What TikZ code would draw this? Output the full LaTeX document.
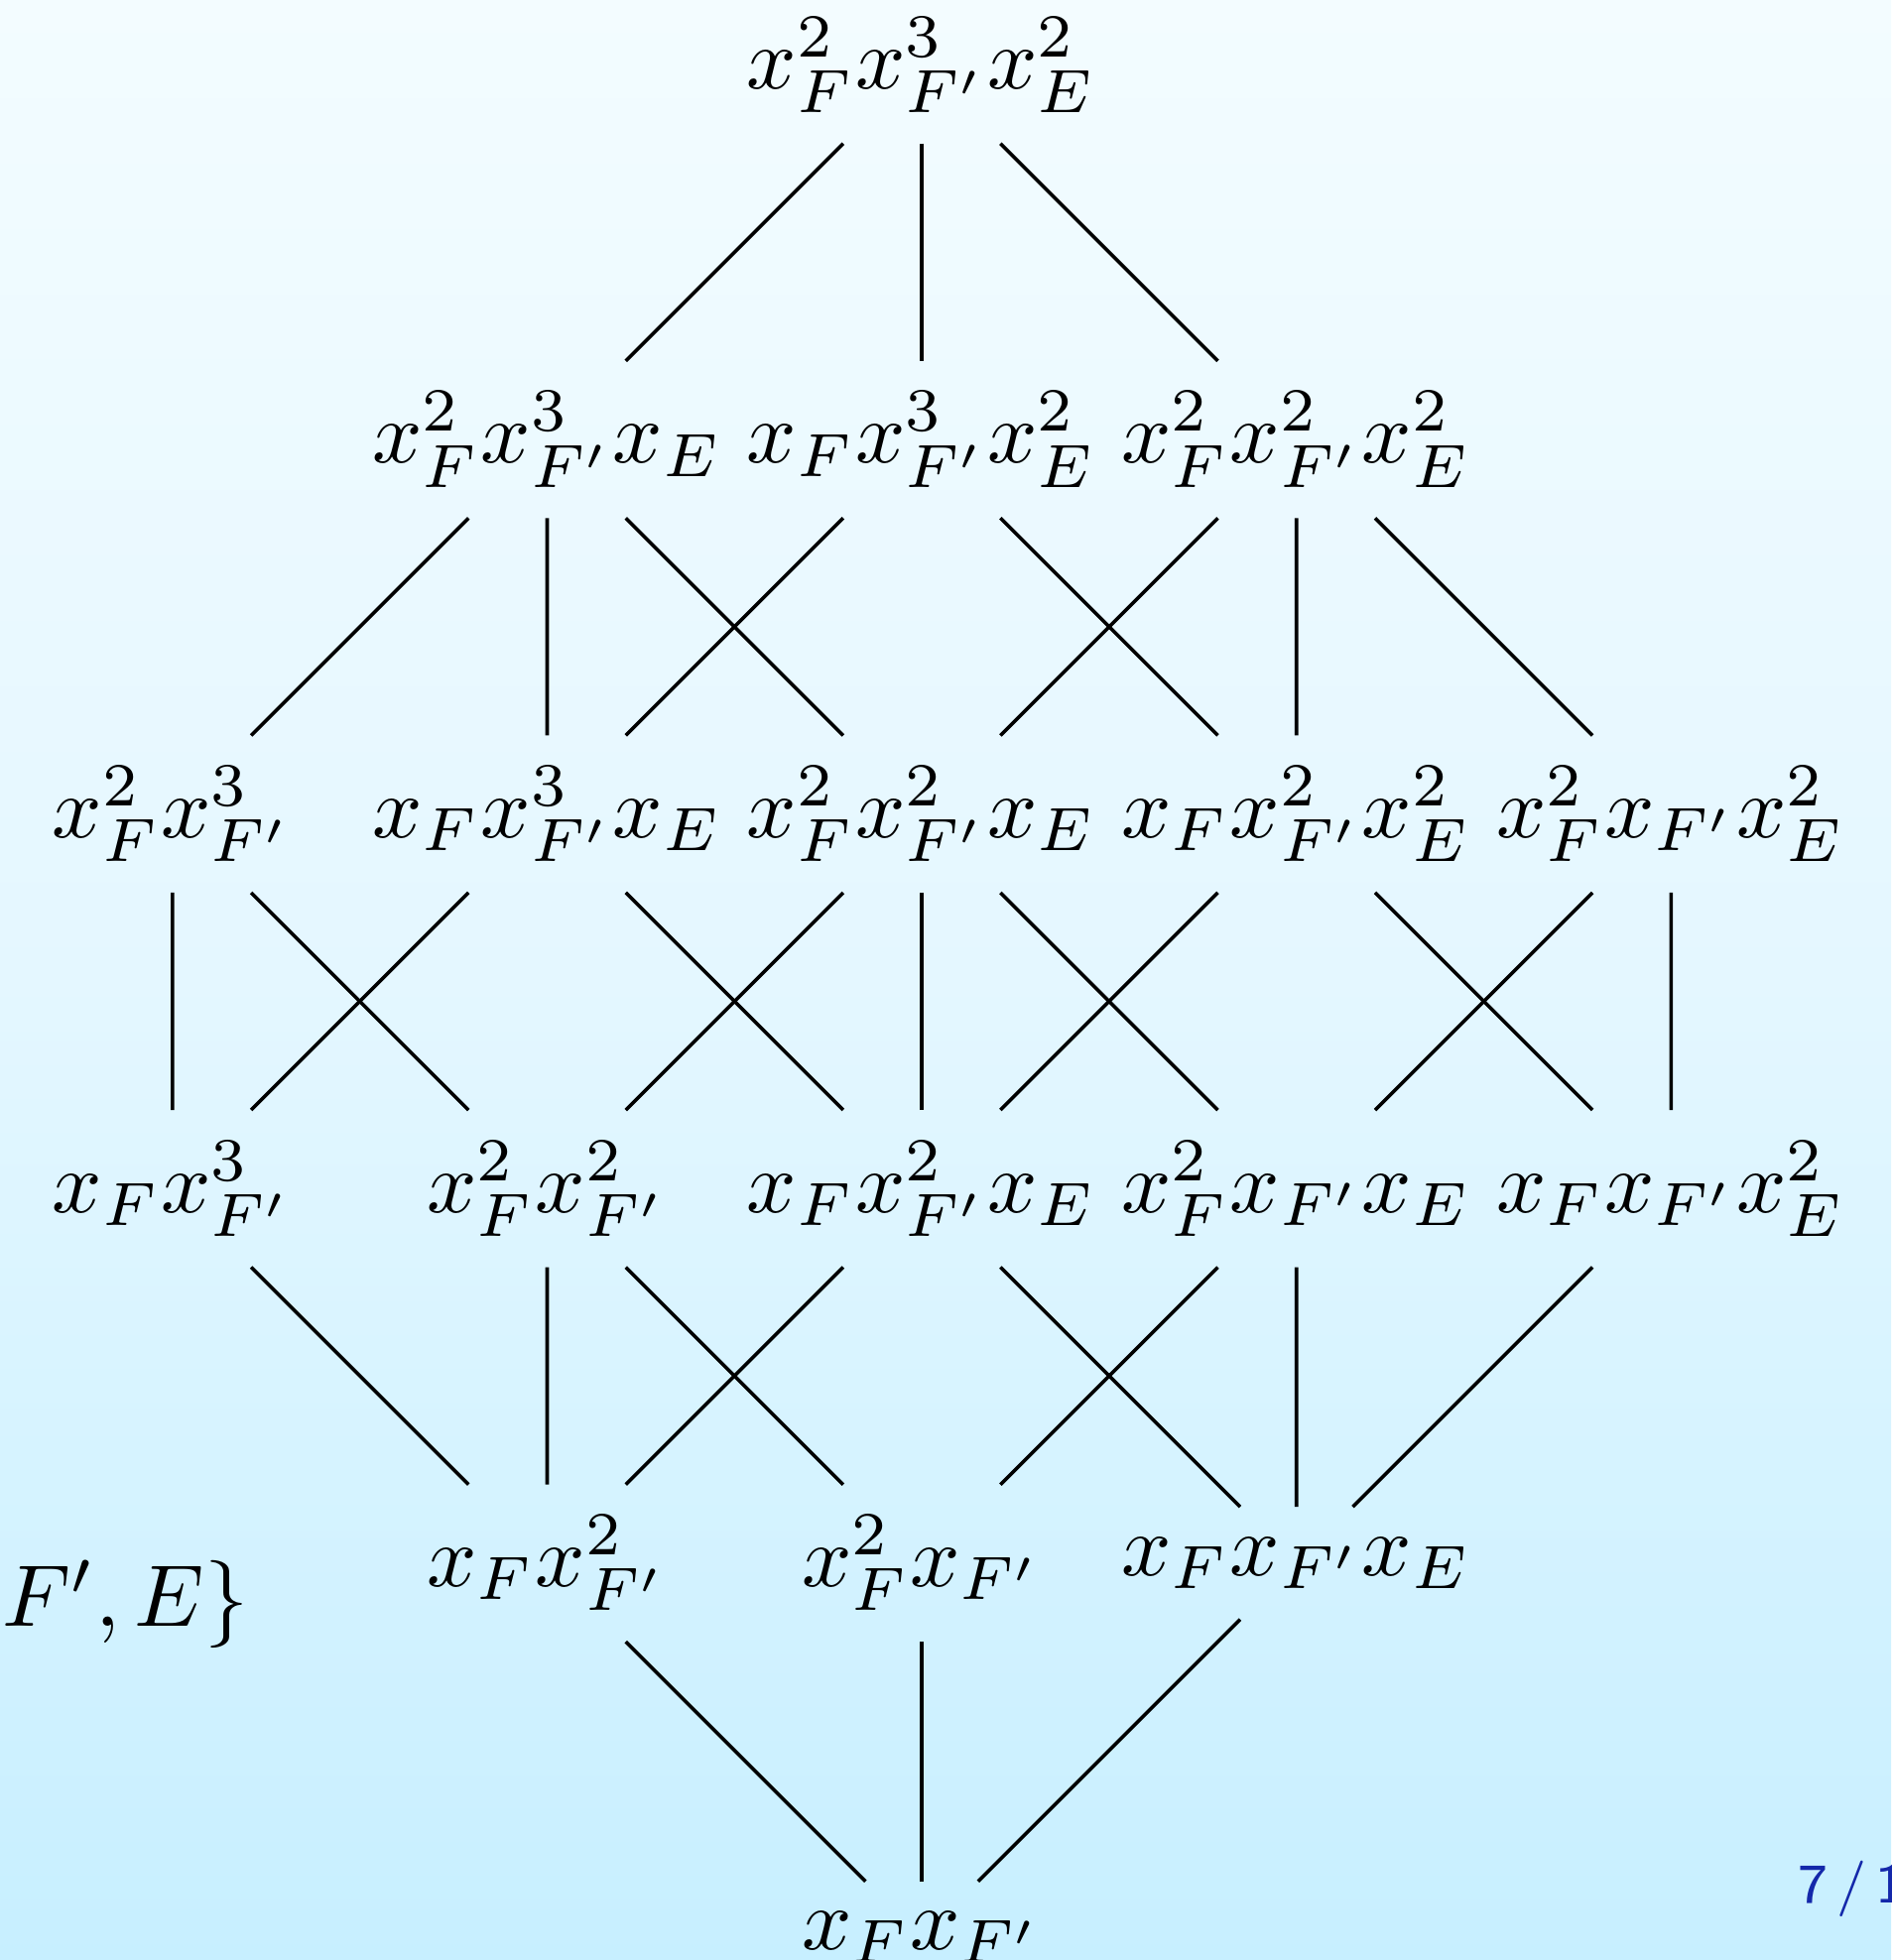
\documentclass[tikz,border=0pt]{standalone}
\usepackage{amsmath, amssymb}
\usepackage{tikz}
\usetikzlibrary{positioning}
\definecolor{slidetop}{RGB}{243,252,255}
\definecolor{slidemid}{RGB}{228,247,255}
\definecolor{slidebot}{RGB}{199,239,255}
\definecolor{pagenum}{RGB}{20,40,170}

\begin{document}
\begin{tikzpicture}[
    mono/.style={inner sep=3.33pt},
    scale=1.503
]
    % slide background
    \useasboundingbox (-2.461,-2.56) rectangle (2.588,2.674);
    \shade[top color=slidetop, bottom color=slidebot, middle color=slidemid]
        (-2.461,-2.56) rectangle (2.588,2.674);

    % degree 7
    \node[mono] (232) at (0,2.5) {$x_F^2x_{F'}^3x_E^2$};

    % degree 6
    \node[mono] (231) at (-1,1.5) {$x_F^2x_{F'}^3x_E$};
    \node[mono] (132) at (0,1.5) {$x_Fx_{F'}^3x_E^2$};
    \node[mono] (222) at (1,1.5) {$x_F^2x_{F'}^2x_E^2$};

    % degree 5
    \node[mono] (230) at (-2,0.5) {$x_F^2x_{F'}^3$};
    \node[mono] (131) at (-1,0.5) {$x_Fx_{F'}^3x_E$};
    \node[mono] (221) at (0,0.5) {$x_F^2x_{F'}^2x_E$};
    \node[mono] (122) at (1,0.5) {$x_Fx_{F'}^2x_E^2$};
    \node[mono] (212) at (2,0.5) {$x_F^2x_{F'}x_E^2$};

    % degree 4
    \node[mono] (130) at (-2,-0.5) {$x_Fx_{F'}^3$};
    \node[mono] (220) at (-1,-0.5) {$x_F^2x_{F'}^2$};
    \node[mono] (121) at (0,-0.5) {$x_Fx_{F'}^2x_E$};
    \node[mono] (211) at (1,-0.5) {$x_F^2x_{F'}x_E$};
    \node[mono] (112) at (2,-0.5) {$x_Fx_{F'}x_E^2$};

    % degree 3
    \node[mono] (120) at (-1,-1.5) {$x_Fx_{F'}^2$};
    \node[mono] (210) at (0,-1.5) {$x_F^2x_{F'}$};
    \node[mono] (111) at (1,-1.5) {$x_Fx_{F'}x_E$};

    % degree 2
    \node[mono] (110) at (0,-2.5) {$x_Fx_{F'}$};

    % covering relations
    \draw (231) -- (232) -- (222);
    \draw (232) -- (132);
    \draw (230) -- (231) -- (221);
    \draw (231) -- (131);
    \draw (131) -- (132) -- (122);
    \draw (221) -- (222) -- (212);
    \draw (222) -- (122);
    \draw (130) -- (230) -- (220);
    \draw (130) -- (131) -- (121);
    \draw (220) -- (221) -- (211);
    \draw (221) -- (121);
    \draw (121) -- (122) -- (112);
    \draw (211) -- (212) -- (112);
    \draw (130) -- (120);
    \draw (120) -- (220) -- (210);
    \draw (120) -- (121) -- (111);
    \draw (210) -- (211) -- (111);
    \draw (112) -- (111);
    \draw (120) -- (110) -- (111);
    \draw (210) -- (110);

    % slide text behind the picture
    \node[anchor=base west, inner sep=0pt]
        (settext) at (-2.458,-1.670) {$F', E\}$};
    \node[anchor=base west, inner sep=0pt, text=pagenum,
        font=\sffamily\fontsize{6.4}{7.5}\selectfont]
        (pageno) at (2.335,-2.407) {\spaceskip=1.0pt 7 / 1};
\end{tikzpicture}
\end{document}
